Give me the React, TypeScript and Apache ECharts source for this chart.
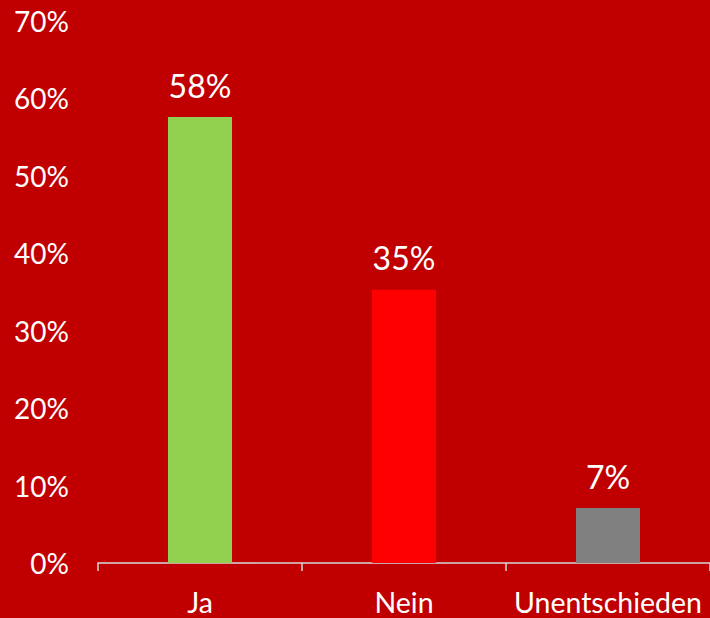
import React, { useEffect, useRef } from "react";
import * as echarts from "echarts";

const categories = ["Ja", "Nein", "Unentschieden"];
const values = [57.6, 35.3, 7.1];
const labels = ["58%", "35%", "7%"];
const barColors = ["#92D050", "#FF0000", "#808080"];
const yTicks = [0, 10, 20, 30, 40, 50, 60, 70];

export default function App() {
  const ref = useRef<HTMLDivElement>(null);
  useEffect(() => {
    document.body.style.margin = "0";
    const chart = echarts.init(ref.current!, null, { renderer: "svg" });
    const font = "Lato, 'Open Sans', sans-serif";
    chart.setOption({
      animation: false,
      backgroundColor: "#C00000",
      textStyle: { fontFamily: font },
      grid: { left: 98, top: 21, width: 616, height: 542, containLabel: false },
      xAxis: {
        type: "category",
        data: categories,
        axisLine: { show: true, lineStyle: { color: "#D9D9D9", width: 1.5 } },
        axisTick: { show: true, length: 8, alignWithLabel: false, lineStyle: { color: "#D9D9D9", width: 1.5 } },
        axisLabel: {
          color: "#FFFFFF",
          fontSize: 28.5,
          lineHeight: 22,
          fontFamily: font,
          margin: 28,
          interval: 0,
        },
      },
      yAxis: {
        type: "value",
        min: yTicks[0],
        max: yTicks[yTicks.length - 1],
        interval: 10,
        axisLine: { show: false },
        axisTick: { show: false },
        splitLine: { show: false },
        axisLabel: {
          color: "#FFFFFF",
          fontSize: 28,
          fontFamily: font,
          margin: 29,
          formatter: (v: number) => v + "%",
        },
      },
      series: [
        {
          type: "bar",
          barWidth: 64,
          data: values.map((v, i) => ({ value: v, itemStyle: { color: barColors[i] } })),
          label: {
            show: true,
            position: "top",
            distance: 16,
            color: "#FFFFFF",
            fontSize: 32,
            fontFamily: font,
            formatter: (p: any) => labels[p.dataIndex],
          },
        },
      ],
    });
    return () => chart.dispose();
  }, []);
  return (
    <div
      ref={ref}
      style={{ position: "absolute", left: 0, top: 0, width: 710, height: 618 }}
    />
  );
}
